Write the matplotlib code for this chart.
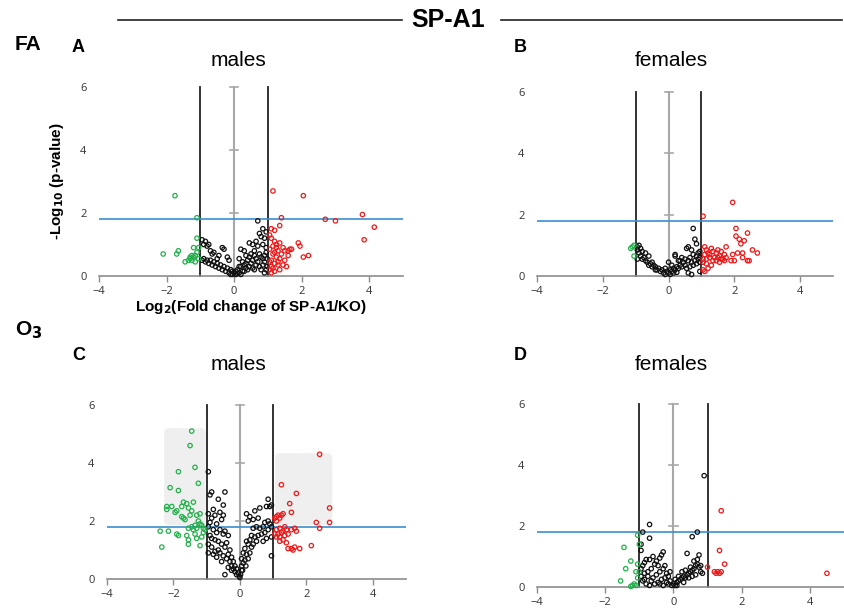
import matplotlib
matplotlib.use("Agg")
import matplotlib.pyplot as plt
from matplotlib.patches import FancyBboxPatch
from matplotlib.lines import Line2D

plt.rcParams['font.family'] = ['Liberation Sans', 'DejaVu Sans']

# --- data: (log2 fold change, -log10 p) ---
A_GREEN = [(-1.75, 2.55), (-1.1, 1.85), (-2.1, 0.7), (-1.65, 0.8), (-1.7, 0.7), (-1.45, 0.45),
           (-1.3, 0.55), (-1.25, 0.5), (-1.2, 0.6), (-1.15, 0.65), (-1.1, 1.2), (-1.05, 0.9),
           (-1.2, 0.9), (-1.35, 0.5), (-1.15, 0.45), (-1.05, 0.55), (-1.25, 0.65), (-1.1, 0.75),
           (-1.3, 0.6)]
A_RED = [(1.15, 2.7), (2.05, 2.55), (1.4, 1.85), (2.7, 1.8), (3.0, 1.75), (3.8, 1.95), (4.15, 1.55),
         (3.85, 1.15), (1.1, 1.5), (1.2, 1.45), (1.35, 1.6), (1.9, 1.05), (1.95, 0.95), (2.05, 0.6),
         (2.2, 0.65), (1.65, 0.85), (1.6, 0.8), (1.5, 0.8), (1.3, 0.8), (1.25, 0.9), (1.2, 1.1),
         (1.1, 1.2), (1.05, 1.3), (1.15, 0.7), (1.25, 0.6), (1.35, 0.55), (1.4, 0.7), (1.1, 0.5),
         (1.05, 0.45), (1.2, 0.4), (1.3, 0.35), (1.45, 0.35), (1.35, 0.2), (1.2, 0.15), (1.1, 0.1),
         (1.05, 0.2), (1.15, 0.25), (1.6, 0.65), (1.5, 0.5), (1.25, 1.0), (1.35, 1.05), (1.2, 0.75),
         (1.15, 0.95), (1.05, 0.85), (1.45, 0.9), (1.3, 0.45), (1.1, 0.3), (1.7, 0.85), (1.55, 0.3)]
A_BLACK = [(0.7, 1.75), (0.85, 1.5), (0.75, 1.35), (0.95, 1.4), (0.9, 1.2), (0.8, 1.25), (0.45, 1.05),
           (0.55, 1.0), (0.65, 1.1), (0.7, 0.95), (0.85, 1.0), (0.95, 0.9), (0.6, 0.8), (0.5, 0.7),
           (0.35, 0.65), (0.3, 0.8), (0.2, 0.85), (0.15, 0.55), (0.25, 0.45), (0.4, 0.5), (0.45, 0.6),
           (0.55, 0.5), (0.65, 0.55), (0.75, 0.7), (0.8, 0.6), (0.9, 0.65), (0.95, 0.75), (0.9, 0.45),
           (0.85, 0.35), (0.75, 0.3), (0.65, 0.35), (0.55, 0.25), (0.45, 0.3), (0.35, 0.25), (0.25, 0.15),
           (0.15, 0.1), (0.05, 0.05), (0.1, 0.2), (0.2, 0.3), (0.3, 0.35), (0.95, 0.2), (0.9, 0.1),
           (0.85, 0.55), (0.7, 0.45), (0.6, 0.65), (0.5, 0.4), (0.4, 0.2), (0.3, 0.15), (0.2, 0.05),
           (0.1, 0.08), (0.0, 0.1), (-0.05, 0.15), (-0.1, 0.2), (-0.15, 0.1), (-0.2, 0.25), (-0.25, 0.15),
           (-0.3, 0.3), (-0.35, 0.2), (-0.4, 0.35), (-0.45, 0.25), (-0.5, 0.4), (-0.55, 0.3), (-0.6, 0.45),
           (-0.65, 0.35), (-0.7, 0.5), (-0.75, 0.4), (-0.8, 0.5), (-0.85, 0.45), (-0.9, 0.55), (-0.95, 0.5),
           (-0.85, 1.1), (-0.9, 1.0), (-0.95, 1.15), (-0.8, 0.95), (-0.75, 1.0), (-0.7, 0.8), (-0.6, 0.75),
           (-0.65, 0.7), (-0.3, 0.85), (-0.35, 0.9), (-0.5, 0.55), (-0.45, 0.65), (-0.2, 0.6), (-0.15, 0.5),
           (0.15, 0.3), (-0.05, 0.05), (0.05, 0.15), (-0.1, 0.05), (0.35, 0.4), (0.6, 0.2), (0.8, 0.2),
           (0.98, 0.3), (0.98, 0.55)]

B_GREEN = [(-1.1, 0.95), (-1.05, 1.0), (-1.15, 0.9), (-1.05, 0.65)]
B_RED = [(1.95, 2.4), (1.05, 1.95), (2.05, 1.55), (2.4, 1.4), (2.05, 1.3), (2.15, 1.2), (2.3, 1.15),
         (2.2, 1.05), (1.75, 0.95), (1.95, 0.7), (2.1, 0.75), (2.25, 0.75), (2.55, 0.85), (2.7, 0.75),
         (1.9, 0.5), (2.0, 0.5), (2.25, 0.6), (2.4, 0.5), (2.45, 0.5), (1.1, 0.95), (1.15, 0.85),
         (1.3, 0.9), (1.5, 0.85), (1.45, 0.75), (1.6, 0.8), (1.55, 0.65), (1.7, 0.7), (1.65, 0.55),
         (1.4, 0.6), (1.2, 0.75), (1.1, 0.7), (1.05, 0.55), (1.15, 0.55), (1.25, 0.6), (1.35, 0.5),
         (1.45, 0.5), (1.55, 0.45), (1.7, 0.5), (1.05, 0.45), (1.15, 0.4), (1.3, 0.35), (1.2, 0.25),
         (1.05, 0.2), (1.1, 0.15), (1.25, 0.7), (1.35, 0.8), (1.6, 0.55), (1.75, 0.6), (1.5, 0.6)]
B_BLACK = [(0.75, 1.55), (0.8, 1.2), (0.85, 1.05), (0.6, 0.95), (0.55, 0.9), (0.7, 0.85), (0.9, 0.75),
           (0.95, 0.8), (0.85, 0.65), (0.75, 0.7), (0.65, 0.6), (0.5, 0.55), (0.4, 0.6), (0.2, 0.65),
           (0.3, 0.5), (0.45, 0.45), (0.6, 0.5), (0.7, 0.45), (0.8, 0.5), (0.9, 0.55), (0.95, 0.6),
           (0.35, 0.35), (0.25, 0.3), (0.15, 0.25), (0.05, 0.2), (0.1, 0.15), (0.2, 0.2), (0.3, 0.25),
           (0.4, 0.3), (0.5, 0.35), (0.55, 0.25), (0.65, 0.3), (0.75, 0.35), (0.85, 0.4), (0.95, 0.45),
           (0.0, 0.1), (-0.05, 0.15), (-0.1, 0.05), (0.05, 0.05), (0.15, 0.1), (0.25, 0.12), (0.6, 0.1),
           (0.7, 0.05), (0.95, 0.15), (-0.15, 0.1), (-0.2, 0.2), (-0.25, 0.15), (-0.3, 0.25), (-0.35, 0.2),
           (-0.4, 0.3), (-0.45, 0.35), (-0.5, 0.3), (-0.55, 0.4), (-0.6, 0.35), (-0.65, 0.45), (-0.7, 0.5),
           (-0.75, 0.6), (-0.8, 0.55), (-0.85, 0.65), (-0.9, 0.75), (-0.95, 0.85), (-0.95, 0.95),
           (-0.9, 1.0), (-0.85, 0.9), (-0.8, 0.8), (-0.7, 0.75), (-0.6, 0.65), (-0.95, 0.55), (0.0, 0.45),
           (0.2, 0.7), (-0.5, 0.45), (-0.4, 0.2), (-0.1, 0.25), (0.1, 0.35), (0.35, 0.5)]

C_GREEN = [(-1.45, 5.1), (-1.5, 4.6), (-1.35, 3.85), (-1.85, 3.7), (-1.25, 3.3), (-2.1, 3.15),
           (-1.85, 3.05), (-1.6, 2.6), (-1.7, 2.65), (-1.4, 2.65), (-2.2, 2.5), (-2.05, 2.5),
           (-1.75, 2.5), (-1.55, 2.45), (-1.45, 2.35), (-2.2, 2.4), (-1.9, 2.35), (-1.95, 2.3),
           (-1.3, 2.2), (-1.2, 2.25), (-1.75, 2.15), (-1.7, 2.1), (-1.65, 2.05), (-1.5, 2.2),
           (-1.25, 2.0), (-1.2, 1.9), (-1.35, 1.85), (-1.15, 1.85), (-1.45, 1.8), (-1.3, 1.75),
           (-1.4, 1.7), (-1.1, 1.75), (-1.55, 1.75), (-2.4, 1.65), (-2.15, 1.65), (-1.9, 1.55),
           (-1.85, 1.5), (-1.6, 1.5), (-1.55, 1.35), (-1.3, 1.4), (-1.15, 1.45), (-1.35, 1.55),
           (-1.55, 1.2), (-1.2, 1.15), (-2.35, 1.1), (-1.1, 1.6), (-1.05, 1.7)]
C_RED = [(2.4, 4.3), (1.25, 3.25), (1.7, 2.95), (1.5, 2.6), (2.7, 2.45), (1.55, 2.3), (1.05, 2.1),
         (1.1, 2.15), (1.15, 2.2), (1.25, 2.2), (1.3, 2.25), (1.2, 2.1), (1.1, 2.0), (2.3, 1.95),
         (2.7, 1.95), (2.4, 1.75), (1.1, 1.7), (1.2, 1.75), (1.3, 1.65), (1.35, 1.8), (1.4, 1.7),
         (1.55, 1.7), (1.65, 1.75), (1.7, 1.65), (1.25, 1.6), (1.15, 1.55), (1.05, 1.55), (1.2, 1.45),
         (1.35, 1.5), (1.45, 1.55), (1.3, 1.35), (1.4, 1.25), (1.2, 1.3), (1.55, 1.05), (1.6, 1.0),
         (1.65, 1.1), (1.8, 1.05), (1.45, 1.05), (2.15, 1.15), (1.1, 1.45)]
C_BLACK = [(-0.95, 3.7), (-0.45, 3.0), (-0.85, 3.0), (-0.9, 2.9), (-0.65, 2.75), (-0.5, 2.55),
           (-0.8, 2.4), (-0.95, 2.25), (-0.75, 2.2), (-0.6, 2.3), (-0.85, 2.1), (-0.9, 1.95), (-0.7, 1.9),
           (-0.55, 2.05), (-0.5, 2.2), (-0.95, 1.8), (-0.8, 1.7), (-0.7, 1.6), (-0.6, 1.7), (-0.5, 1.55),
           (-0.45, 1.65), (-0.35, 1.5), (-0.9, 1.5), (-0.85, 1.4), (-0.75, 1.35), (-0.65, 1.3),
           (-0.55, 1.2), (-0.45, 1.1), (-0.4, 1.25), (-0.3, 1.0), (-0.35, 0.85), (-0.25, 0.75),
           (-0.2, 0.6), (-0.15, 0.45), (-0.1, 0.35), (-0.05, 0.2), (0.0, 0.05), (0.02, 0.15),
           (-0.02, 0.1), (0.05, 0.3), (-0.95, 1.2), (-0.85, 1.1), (-0.75, 0.95), (-0.65, 1.0),
           (-0.6, 0.9), (-0.5, 0.8), (-0.4, 0.7), (-0.3, 0.6), (-0.25, 0.45), (-0.2, 0.35), (-0.15, 0.25),
           (-0.1, 0.15), (-0.45, 0.15), (-0.8, 0.85), (-0.95, 0.9), (-0.7, 0.75), (-0.55, 0.6),
           (-0.35, 0.4), (-0.25, 0.3),
           (0.85, 2.75), (0.95, 2.55), (0.8, 2.5), (0.9, 2.5), (0.6, 2.45), (0.45, 2.35), (0.2, 2.25),
           (0.3, 2.15), (0.4, 2.05), (0.25, 2.0), (0.55, 2.1), (0.75, 1.95), (0.85, 2.0), (0.9, 1.9),
           (0.95, 1.8), (0.7, 1.8), (0.6, 1.75), (0.5, 1.8), (0.4, 1.75), (0.85, 1.7), (0.75, 1.6),
           (0.65, 1.55), (0.55, 1.5), (0.45, 1.45), (0.35, 1.5), (0.3, 1.35), (0.2, 1.3), (0.25, 1.2),
           (0.35, 1.1), (0.15, 1.05), (0.1, 0.9), (0.2, 0.85), (0.05, 0.7), (0.1, 0.55), (0.15, 0.65),
           (0.05, 0.45), (0.08, 0.3), (0.95, 1.45), (0.8, 1.4), (0.7, 1.3), (0.95, 0.8), (0.3, 0.9),
           (0.4, 1.2), (0.5, 1.3), (0.25, 0.7), (0.18, 0.45)]

D_GREEN = [(-1.05, 1.7), (-1.0, 1.4), (-1.45, 1.3), (-1.25, 0.85), (-1.4, 0.6), (-1.05, 0.75),
           (-1.1, 0.5), (-1.0, 0.5), (-1.55, 0.2), (-1.15, 0.1), (-1.2, 0.05), (-1.25, 0.02),
           (-1.1, 0.05), (-1.05, 0.3)]
D_RED = [(1.4, 2.5), (1.35, 1.2), (1.5, 0.75), (1.0, 0.65), (1.2, 0.5), (1.25, 0.45), (1.3, 0.5),
         (1.35, 0.45), (1.4, 0.5), (4.5, 0.45)]
D_BLACK = [(0.9, 3.65), (-0.7, 2.05), (-0.9, 1.8), (-0.7, 1.6), (0.55, 1.65), (0.7, 1.8), (-0.95, 1.4),
           (-0.95, 1.2), (0.75, 1.05), (0.4, 1.1), (-0.3, 1.15), (-0.35, 1.05), (-0.4, 0.95),
           (-0.5, 0.85), (-0.6, 1.0), (-0.7, 0.9), (-0.8, 0.9), (-0.85, 0.8), (-0.9, 0.7), (-0.95, 0.6),
           (-0.55, 0.75), (-0.45, 0.7), (-0.65, 0.6), (-0.75, 0.5), (-0.85, 0.45), (-0.95, 0.35),
           (-0.9, 0.2), (-0.8, 0.1), (-0.7, 0.05), (-0.6, 0.3), (-0.5, 0.4), (-0.4, 0.5), (-0.3, 0.6),
           (-0.25, 0.3), (-0.35, 0.25), (-0.45, 0.15), (-0.55, 0.1), (-0.65, 0.2), (-0.2, 0.15),
           (-0.15, 0.1), (-0.1, 0.2), (-0.05, 0.05), (0.0, 0.1), (0.05, 0.05), (0.1, 0.15), (0.15, 0.2),
           (0.2, 0.25), (0.25, 0.3), (0.3, 0.35), (0.35, 0.3), (0.4, 0.4), (0.45, 0.45), (0.5, 0.5),
           (0.55, 0.55), (0.6, 0.6), (0.65, 0.7), (0.7, 0.75), (0.75, 0.65), (0.8, 0.5), (0.85, 0.45),
           (0.6, 0.85), (0.5, 0.65), (0.35, 0.55), (0.25, 0.5), (0.15, 0.35), (0.45, 0.3), (0.55, 0.35),
           (0.65, 0.4), (0.7, 0.9), (0.8, 0.7), (-0.25, 0.7), (-0.2, 0.45), (-0.15, 0.35), (-0.1, 0.5),
           (0.05, 0.25), (0.1, 0.05), (0.3, 0.15), (-0.3, 0.05), (-0.4, 0.1), (-0.85, 0.25), (-0.75, 0.35)]

# gray shaded boxes in panel C: (x0, x1, y0, y1)
C_BOXES = [(-2.28, -1.03, 1.86, 5.2), (1.06, 2.78, 1.86, 4.34)]

X_TICKS = [-4, -2, 0, 2, 4]
Y_TICKS = [0, 2, 4, 6]
FC_CUT = 1
P_CUT = 1.8

W, H = 844, 610
fig = plt.figure(figsize=(W / 100, H / 100), dpi=100)


def px_axes(x0, x1, ytop, ybot):
    return fig.add_axes([x0 / W, 1 - ybot / H, (x1 - x0) / W, (ybot - ytop) / H])


def volcano(ax, green, red, black, boxes=()):
    ax.set_xlim(-4, 5)
    ax.set_ylim(0, 6)
    for s in ['top', 'right', 'left']:
        ax.spines[s].set_visible(False)
    ax.spines['bottom'].set_color('#8c8c8c')
    ax.spines['bottom'].set_linewidth(1.2)
    ax.set_xticks(X_TICKS)
    ax.set_yticks(Y_TICKS)
    ax.tick_params(axis='x', colors='#8c8c8c', labelcolor='#333333', labelsize=8, length=4,
                   width=1, pad=3)
    ax.tick_params(axis='y', length=0, labelcolor='#333333', labelsize=8, pad=9)
    for lab in ax.get_xticklabels() + ax.get_yticklabels():
        lab.set_family('Open Sans')
    for (x0, x1, y0, y1) in boxes:
        ax.add_patch(FancyBboxPatch((x0, y0), x1 - x0, y1 - y0,
                                    boxstyle='round,pad=0,rounding_size=0.15',
                                    fc='#efefef', ec='none', zorder=0))
    # zero axis with small ticks
    ax.plot([0, 0], [0, 6], color='#a8a8a8', lw=1.5, zorder=1, clip_on=False)
    for yt in Y_TICKS[1:]:
        ax.plot([-0.12, 0.12], [yt, yt], color='#a8a8a8', lw=1.2, zorder=1, clip_on=False)
    ax.plot([-FC_CUT, -FC_CUT], [0, 6], color='#222222', lw=1.3, zorder=2, clip_on=False)
    ax.plot([FC_CUT, FC_CUT], [0, 6], color='#222222', lw=1.3, zorder=2, clip_on=False)
    ax.axhline(P_CUT, color='#3a8fd0', lw=1.2, zorder=2)
    for pts, col in [(black, '#111111'), (green, '#22b04b'), (red, '#f01818')]:
        ax.scatter([p[0] for p in pts], [p[1] for p in pts], s=10, facecolors='none',
                   edgecolors=col, linewidths=0.9, zorder=3, clip_on=False)


axA = px_axes(99, 403, 87, 276)
axB = px_axes(537, 833, 92, 276)
axC = px_axes(107, 406, 405, 579)
axD = px_axes(537, 844, 404, 587)
volcano(axA, A_GREEN, A_RED, A_BLACK)
volcano(axB, B_GREEN, B_RED, B_BLACK)
volcano(axC, C_GREEN, C_RED, C_BLACK, C_BOXES)
volcano(axD, D_GREEN, D_RED, D_BLACK)

axA.set_xlabel('Log$_\\mathbf{2}$(Fold change of SP-A1/KO)', fontsize=11, fontweight='bold',
               labelpad=1)
axA.set_ylabel('-Log$_\\mathbf{10}$ (p-value)', fontsize=11, fontweight='bold', labelpad=10)

# header and panel labels
fig.text(448 / W, 1 - 20 / H, 'SP-A1', ha='center', va='center', fontsize=18, fontweight='bold')
fig.add_artist(Line2D([118 / W, 402 / W], [1 - 20 / H] * 2, color='#222222', lw=1.2))
fig.add_artist(Line2D([501 / W, 842 / W], [1 - 20 / H] * 2, color='#222222', lw=1.2))

fig.text(15 / W, 1 - 45 / H, 'FA', ha='left', va='center', fontsize=15, fontweight='bold')
fig.text(15 / W, 1 - 330 / H, 'O$_\\mathbf{3}$', ha='left', va='center', fontsize=15,
         fontweight='bold')
for lab, x, y in [('A', 72, 48), ('B', 514, 48), ('C', 72, 355), ('D', 514, 355)]:
    fig.text(x / W, 1 - y / H, lab, ha='left', va='center', fontsize=13, fontweight='bold')
for lab, x, y in [('males', 238, 60), ('females', 671, 60), ('males', 238, 364),
                  ('females', 671, 364)]:
    fig.text(x / W, 1 - y / H, lab, ha='center', va='center', fontsize=15)

fig.savefig('out.png', dpi=100)
